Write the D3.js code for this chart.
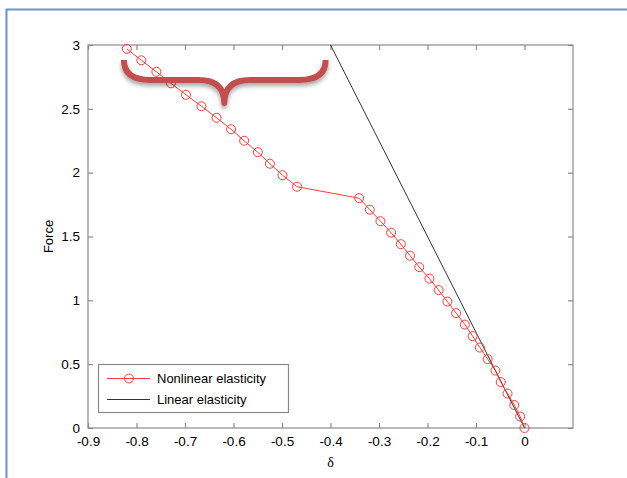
<!DOCTYPE html>
<html>
<head>
<meta charset="utf-8">
<script src="https://cdn.jsdelivr.net/npm/d3@7"></script>
<style>
  body { margin: 0; background: #fff; }
  svg { display: block; font-family: "Liberation Sans", Arial, sans-serif; }
</style>
</head>
<body>
<svg id="chart" width="627" height="478"></svg>
<script>
// ---------------------------------------------
//  Data
// ---------------------------------------------
const deltaNonlinear = [-0.820, -0.790, -0.759, -0.729, -0.698, -0.666, -0.635, -0.605, -0.578,
  -0.550, -0.525, -0.499, -0.469, -0.341, -0.319, -0.297, -0.275, -0.255, -0.236, -0.217,
  -0.196, -0.177, -0.159, -0.141, -0.123, -0.107, -0.092, -0.076, -0.060, -0.049, -0.035,
  -0.021, -0.009, 0.0];
const forceNonlinear = [2.97, 2.88, 2.79, 2.70, 2.61, 2.52, 2.43, 2.34, 2.25,
  2.16, 2.07, 1.98, 1.89, 1.80, 1.71, 1.62, 1.53, 1.44, 1.35, 1.26,
  1.17, 1.08, 0.99, 0.90, 0.81, 0.72, 0.63, 0.54, 0.45, 0.36, 0.27,
  0.18, 0.09, 0.0];

// straight line, end points
const deltaLinear = [0, -0.40];
const forceLinear = [0, 3.0];

const xTicks = [-0.9, -0.8, -0.7, -0.6, -0.5, -0.4, -0.3, -0.2, -0.1, 0];
const yTicks = [0, 0.5, 1, 1.5, 2, 2.5, 3];
const seriesNames = ["Nonlinear elasticity", "Linear elasticity"];

// the curly brace annotation, in data units: [left, tip, right], [top, bar, tip]
const braceX = [-0.826, -0.619, -0.410];
const braceY = [2.882, 2.726, 2.546];

// ---------------------------------------------
//  Layout
// ---------------------------------------------
const svg = d3.select("#chart");
const plotLeft = 88, plotRight = 573, plotTop = 45, plotBottom = 428;
const tickLen = 5;

const x = d3.scaleLinear().domain([-0.9, 0.1]).range([plotLeft, plotRight]);
const y = d3.scaleLinear().domain([0, 3]).range([plotBottom, plotTop]);

// blue slide frame
svg.append("path")
  .attr("d", `M6.5,478 L6.5,9.5 L627,9.5`)
  .attr("fill", "none")
  .attr("stroke", "#6b93cd")
  .attr("stroke-width", 2);

// shadow filter for the brace
const defs = svg.append("defs");
const f = defs.append("filter").attr("id", "shadow")
  .attr("x", "-10%").attr("y", "-30%").attr("width", "120%").attr("height", "180%");
f.append("feDropShadow").attr("dx", 0).attr("dy", 3).attr("stdDeviation", 2.2)
  .attr("flood-color", "#000").attr("flood-opacity", 0.35);

const axisColor = "#8a8a8a";

// axes box
svg.append("rect")
  .attr("x", plotLeft).attr("y", plotTop)
  .attr("width", plotRight - plotLeft).attr("height", plotBottom - plotTop)
  .attr("fill", "none").attr("stroke", axisColor).attr("stroke-width", 1.2);

// MATLAB style labels use a plain hyphen for the minus sign
const fmtX = d => d === 0 ? "0" : d.toFixed(1);
const fmtY = d => String(d);

// ticks: inward on all four sides
const xAxisB = d3.axisBottom(x).tickValues(xTicks).tickSizeInner(-tickLen).tickSizeOuter(0)
  .tickPadding(8).tickFormat(fmtX);
const xAxisT = d3.axisTop(x).tickValues(xTicks).tickSizeInner(-tickLen).tickSizeOuter(0).tickFormat("");
const yAxisL = d3.axisLeft(y).tickValues(yTicks).tickSizeInner(-tickLen).tickSizeOuter(0)
  .tickPadding(8).tickFormat(fmtY);
const yAxisR = d3.axisRight(y).tickValues(yTicks).tickSizeInner(-tickLen).tickSizeOuter(0).tickFormat("");

function styleAxis(g) {
  g.select(".domain").remove();
  g.selectAll(".tick line").attr("stroke", axisColor).attr("stroke-width", 1.2);
  g.selectAll(".tick text").attr("fill", "#000").attr("font-size", 13.5)
    .attr("font-family", "'Liberation Sans', Arial, sans-serif");
}

svg.append("g").attr("transform", `translate(0,${plotBottom})`).call(xAxisB).call(styleAxis);
svg.append("g").attr("transform", `translate(0,${plotTop})`).call(xAxisT).call(styleAxis);
svg.append("g").attr("transform", `translate(${plotLeft},0)`).call(yAxisL).call(styleAxis);
svg.append("g").attr("transform", `translate(${plotRight},0)`).call(yAxisR).call(styleAxis);

// axis labels
svg.append("text")
  .attr("x", x(-0.4)).attr("y", 467)
  .attr("text-anchor", "middle")
  .attr("font-family", "'Liberation Serif', 'Times New Roman', serif")
  .attr("font-size", 14)
  .text("δ");

svg.append("text")
  .attr("transform", `translate(53,${(plotTop + plotBottom) / 2}) rotate(-90)`)
  .attr("text-anchor", "middle")
  .attr("font-size", 13)
  .text("Force");

// ---------------------------------------------
//  Series
// ---------------------------------------------
const nonlinear = deltaNonlinear.map((d, i) => ({ d, f: forceNonlinear[i] }));
const linear = deltaLinear.map((d, i) => ({ d, f: forceLinear[i] }));
const line = d3.line().x(p => x(p.d)).y(p => y(p.f));

const red = "#ff3b3b";

svg.append("path")
  .datum(linear)
  .attr("d", line)
  .attr("fill", "none")
  .attr("stroke", "#333")
  .attr("stroke-width", 1);

svg.append("path")
  .datum(nonlinear)
  .attr("d", line)
  .attr("fill", "none")
  .attr("stroke", red)
  .attr("stroke-width", 1);

svg.append("g").selectAll("circle")
  .data(nonlinear)
  .join("circle")
  .attr("cx", p => x(p.d))
  .attr("cy", p => y(p.f))
  .attr("r", 4.5)
  .attr("fill", "none")
  .attr("stroke", red)
  .attr("stroke-width", 1);

// ---------------------------------------------
//  Curly brace annotation
// ---------------------------------------------
const bx0 = x(braceX[0]), bxm = x(braceX[1]), bx1 = x(braceX[2]);
const by0 = y(braceY[0]), byb = y(braceY[1]), byt = y(braceY[2]);
const r = 26;
const bracePath = [
  `M${bx0},${by0}`,
  `Q${bx0},${byb} ${bx0 + r},${byb}`,
  `L${bxm - r},${byb}`,
  `Q${bxm},${byb} ${bxm},${byt}`,
  `Q${bxm},${byb} ${bxm + r},${byb}`,
  `L${bx1 - r},${byb}`,
  `Q${bx1},${byb} ${bx1},${by0}`
].join(" ");

svg.append("path")
  .attr("d", bracePath)
  .attr("fill", "none")
  .attr("stroke", "#c0504d")
  .attr("stroke-width", 6)
  .attr("stroke-linejoin", "round")
  .attr("filter", "url(#shadow)");

// ---------------------------------------------
//  Legend
// ---------------------------------------------
const legend = svg.append("g");
legend.append("rect")
  .attr("x", 98.5).attr("y", 364.5)
  .attr("width", 190).attr("height", 48)
  .attr("fill", "#fff").attr("stroke", axisColor).attr("stroke-width", 1.2);

const rows = [378.5, 399.5];
legend.append("line").attr("x1", 107).attr("x2", 150).attr("y1", rows[0]).attr("y2", rows[0])
  .attr("stroke", red);
legend.append("circle").attr("cx", 129).attr("cy", rows[0]).attr("r", 4.5)
  .attr("fill", "none").attr("stroke", red);
legend.append("line").attr("x1", 107).attr("x2", 150).attr("y1", rows[1]).attr("y2", rows[1])
  .attr("stroke", "#333");

legend.selectAll("text")
  .data(seriesNames)
  .join("text")
  .attr("x", 157)
  .attr("y", (d, i) => rows[i] + 4.5)
  .attr("font-size", 13)
  .text(d => d);
</script>
</body>
</html>
